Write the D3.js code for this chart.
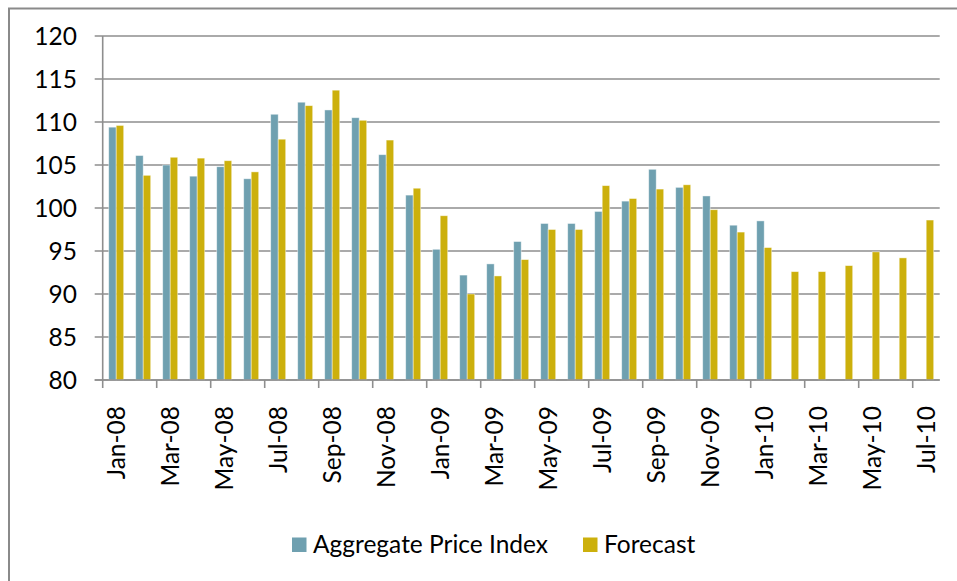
<!DOCTYPE html>
<html>
  <head>
    <meta charset="UTF-8">
    <style>
      body { margin: 0; background: #fff; }
      svg text { font-family: Lato, "Open Sans", sans-serif; fill: #000; }
    </style>
  </head>
  <body>
    <svg id="chart" width="957" height="581"></svg>

    <script src="https://d3js.org/d3.v7.min.js"></script>
    <script>
      // categories, one per month
      var months = ["Jan-08","Feb-08","Mar-08","Apr-08","May-08","Jun-08","Jul-08","Aug-08","Sep-08","Oct-08","Nov-08","Dec-08",
                    "Jan-09","Feb-09","Mar-09","Apr-09","May-09","Jun-09","Jul-09","Aug-09","Sep-09","Oct-09","Nov-09","Dec-09",
                    "Jan-10","Feb-10","Mar-10","Apr-10","May-10","Jun-10","Jul-10"];

      // actual index (ends at Jan-10)
      var priceIndex = [109.4,106.1,105.0,103.7,104.8,103.4,110.9,112.3,111.4,110.5,106.2,101.5,
                        95.2,92.2,93.5,96.1,98.2,98.2,99.6,100.8,104.5,102.4,101.4,98.0,
                        98.5,null,null,null,null,null,null];

      var forecast = [109.6,103.8,105.9,105.8,105.5,104.2,108.0,111.9,113.7,110.2,107.9,102.3,
                      99.1,90.0,92.1,94.0,97.5,97.5,102.6,101.1,102.2,102.7,99.8,97.2,
                      95.4,92.6,92.6,93.3,94.9,94.2,98.6];

      var seriesNames = ["Aggregate Price Index", "Forecast"];
      var yTicks = [80, 85, 90, 95, 100, 105, 110, 115, 120];

      var colors = ["#6fa0b0", "#ccb00c"];
      var gridColor = "#8e8e8e";
      var fontSize = "24.5px";

      var svg = d3.select("#chart");
      var plotLeft = 102.7, plotRight = 939.7, plotTop = 36, plotBottom = 380;

      // outer frame (runs off the right and bottom edge)
      svg.append("rect")
          .attr("x", 9).attr("y", 8.5)
          .attr("width", 1000).attr("height", 1000)
          .attr("fill", "none")
          .attr("stroke", "#8a8a8a")
          .attr("stroke-width", 2);

      var x = d3.scaleBand().domain(months).range([plotLeft, plotRight]).paddingInner(0).paddingOuter(0);
      var x1 = d3.scaleBand().domain(seriesNames).range([6, x.bandwidth() - 6]);
      var y = d3.scaleLinear().domain([80, 120]).range([plotBottom, plotTop]);

      // grid lines + y labels
      var yg = svg.append("g");
      yg.selectAll("line")
        .data(yTicks)
        .enter().append("line")
          .attr("x1", plotLeft - 8)
          .attr("x2", plotRight)
          .attr("y1", function(d) { return y(d); })
          .attr("y2", function(d) { return y(d); })
          .attr("stroke", gridColor)
          .attr("stroke-width", 1.6);
      yg.selectAll("text")
        .data(yTicks)
        .enter().append("text")
          .attr("x", 77)
          .attr("y", function(d) { return y(d); })
          .attr("dy", "0.36em")
          .attr("text-anchor", "end")
          .style("font-size", fontSize)
          .text(function(d) { return d; });

      // bars
      var data = months.map(function(m, i) {
        return { month: m, values: [priceIndex[i], forecast[i]] };
      });

      var groups = svg.append("g").selectAll("g")
        .data(data)
        .enter().append("g")
          .attr("transform", function(d) { return "translate(" + x(d.month) + ",0)"; });

      groups.selectAll("rect")
        .data(function(d) {
          return d.values.map(function(v, k) { return { name: seriesNames[k], value: v, k: k }; })
            .filter(function(e) { return e.value !== null; });
        })
        .enter().append("rect")
          .attr("x", function(d) { return x1(d.name); })
          .attr("width", x1.bandwidth())
          .attr("y", function(d) { return y(d.value); })
          .attr("height", function(d) { return y(80) - y(d.value); })
          .attr("fill", function(d) { return colors[d.k]; })
          .attr("stroke", "rgba(255,255,255,0.55)")
          .attr("stroke-width", 0.8);

      // axes lines
      svg.append("line")
          .attr("x1", plotLeft).attr("x2", plotLeft)
          .attr("y1", plotTop).attr("y2", plotBottom)
          .attr("stroke", gridColor).attr("stroke-width", 1.6);
      svg.append("line")
          .attr("x1", plotLeft - 8).attr("x2", plotRight)
          .attr("y1", plotBottom).attr("y2", plotBottom)
          .attr("stroke", gridColor).attr("stroke-width", 1.6);

      // x ticks every 2 months, labels on the even months
      var labelled = months.filter(function(m, i) { return i % 2 === 0; });
      svg.append("g").selectAll("line")
        .data(labelled)
        .enter().append("line")
          .attr("x1", function(d) { return x(d); })
          .attr("x2", function(d) { return x(d); })
          .attr("y1", plotBottom)
          .attr("y2", plotBottom + 8)
          .attr("stroke", gridColor)
          .attr("stroke-width", 1.6);

      svg.append("g").selectAll("text")
        .data(labelled)
        .enter().append("text")
          .attr("transform", function(d) {
            return "translate(" + (x(d) + x.bandwidth() / 2) + "," + 406 + ") rotate(-90)";
          })
          .attr("dy", "0.36em")
          .attr("text-anchor", "end")
          .style("font-size", fontSize)
          .text(function(d) { return d; });

      // legend
      var legend = svg.append("g");
      var legendX = [292, 583];
      seriesNames.forEach(function(name, k) {
        legend.append("rect")
            .attr("x", legendX[k]).attr("y", 537.5)
            .attr("width", 14.5).attr("height", 14.5)
            .attr("fill", colors[k]);
        legend.append("text")
            .attr("x", legendX[k] + 21)
            .attr("y", 544.5)
            .attr("dy", "0.36em")
            .style("font-size", fontSize)
            .text(name);
      });
    </script>
  </body>
</html>
